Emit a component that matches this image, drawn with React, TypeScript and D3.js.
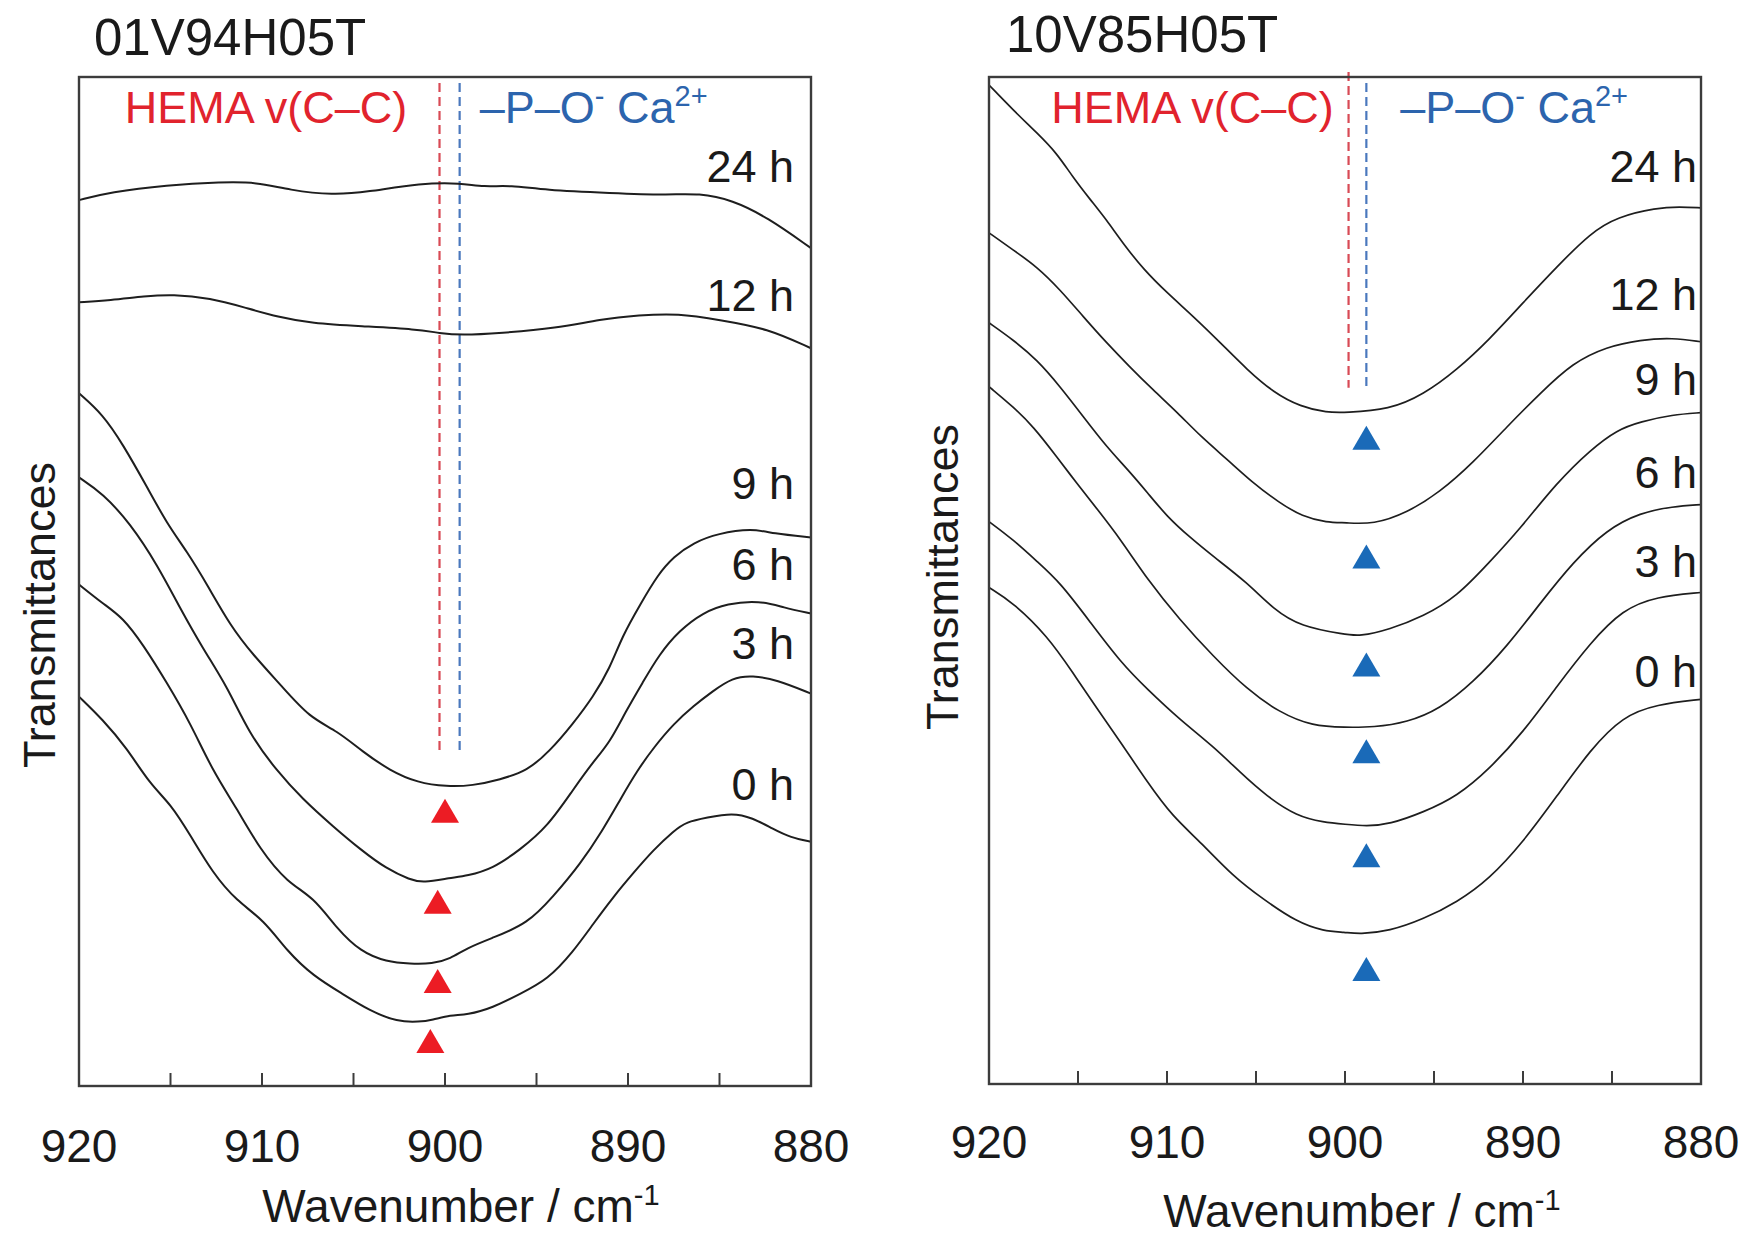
import React from "react";
import * as d3 from "d3";

type Pt = [number, number];

// ---------- axis values ----------
const WAVENUMBER_DOMAIN: [number, number] = [920, 880];
const TRANSMITTANCE_DOMAIN: [number, number] = [0, 100.8];
const TICK_VALUES = [920, 915, 910, 905, 900, 895, 890, 885, 880];
const TICK_LABELS = [920, 910, 900, 890, 880];
const X_TITLE = "Wavenumber / cm";
const Y_TITLE = "Transmittances";
const TIME_LABELS = ["24 h", "12 h", "9 h", "6 h", "3 h", "0 h"];

// ---------- panel A : 01V94H05T ----------
const A_TITLE = "01V94H05T";
const A_24H: Pt[] = [[920,88.5],[918.3,89.3],[915.2,90.0],[912.2,90.3],[910.3,90.3],[908.5,89.5],[906.1,89.0],[904.3,89.3],[901.3,90.2],[899.1,90.2],[897.9,89.8],[896.4,90.0],[894.6,89.5],[890.9,89.2],[887.9,89.0],[886.1,89.2],[884.3,88.5],[882.4,86.8],[880,83.7]];
const A_12H: Pt[] = [[920,78.3],[918.3,78.5],[916.4,78.9],[914.9,79.1],[912.8,78.7],[911.0,77.8],[909.1,76.8],[907.3,76.2],[904.6,75.9],[901.5,75.6],[900.3,75.2],[899.1,75.0],[897.0,75.2],[893.9,75.7],[891.5,76.6],[889.4,77.0],[887.3,77.2],[884.9,76.5],[882.4,75.7],[880,73.7]];
const A_9H: Pt[] = [[920,69.2],[918.7,67.1],[917.6,64.1],[916.3,59.9],[915.2,56.2],[914.1,53.4],[913.0,50.1],[911.7,45.9],[910.5,43.1],[908.9,39.9],[907.4,36.8],[905.9,35.5],[904.5,33.4],[903.0,31.5],[901.5,30.3],[899.9,29.9],[898.5,30.0],[897.0,30.6],[895.5,31.5],[894.3,33.4],[893.0,36.2],[891.9,38.9],[891.0,41.7],[890.3,45.0],[889.3,48.2],[888.4,51.0],[887.5,52.9],[886.4,54.3],[885.1,55.2],[883.2,55.7],[882.1,55.2],[880,54.8]];
const A_6H: Pt[] = [[920,60.8],[918.7,59.2],[917.2,56.2],[915.7,52.0],[914.5,47.8],[913.2,43.6],[911.9,39.9],[910.7,35.2],[909.2,31.5],[907.8,28.7],[906.1,25.9],[904.6,23.6],[903.2,21.7],[901.9,20.6],[901.2,20.3],[899.7,20.8],[898.8,21.0],[897.4,21.7],[895.9,23.6],[894.4,25.9],[893.0,29.6],[891.9,32.4],[891.0,34.3],[890.1,37.5],[889.2,40.3],[888.3,43.1],[887.2,45.5],[885.9,47.3],[884.6,48.2],[882.8,48.5],[881.5,47.8],[880,47.2]];
const A_3H: Pt[] = [[920,50.1],[918.7,48.2],[917.6,46.8],[916.5,44.1],[915.2,40.3],[913.9,36.2],[912.7,31.5],[911.4,27.8],[910.1,23.6],[908.6,20.3],[907.2,18.9],[905.9,15.7],[904.6,13.4],[903.2,12.4],[901.9,12.2],[900.7,12.2],[899.7,12.7],[898.8,13.8],[897.4,14.8],[895.5,16.2],[894.1,18.9],[892.6,22.2],[891.4,25.5],[890.4,28.7],[889.5,31.5],[888.6,33.8],[887.5,36.2],[886.4,38.0],[885.4,39.4],[884.3,40.8],[883.2,41.0],[881.9,40.6],[880,39.2]];
const A_0H: Pt[] = [[920,38.9],[918.7,36.6],[917.4,33.8],[916.1,30.1],[915.0,28.2],[913.9,25.0],[912.7,21.3],[911.4,18.5],[909.9,16.6],[908.6,13.4],[907.2,11.0],[905.6,9.2],[904.1,7.5],[902.6,6.4],[901.4,6.4],[900.7,6.6],[899.7,7.1],[898.8,7.1],[897.4,7.8],[895.9,9.2],[894.4,10.6],[893.0,13.4],[891.9,16.2],[890.8,18.9],[889.7,21.3],[888.6,23.6],[887.5,25.5],[886.8,26.4],[885.7,26.8],[884.3,27.3],[883.2,26.8],[882.1,25.7],[881.1,24.8],[880,24.4]];
const A_PEAKS: Pt[] = [[900.0,27.5],[900.4,18.4],[900.4,10.5],[900.8,4.5]];
const A_BAND_HEMA = 900.3;
const A_BAND_PO = 899.2;

// ---------- panel B : 10V85H05T ----------
const B_TITLE = "10V85H05T";
const B_24H: Pt[] = [[920,100.0],[918.65,97.5],[917.3,95.2],[916.2,93.2],[915.3,90.8],[914.3,88.5],[913.4,86.5],[912.5,84.2],[911.3,81.5],[910.0,79.2],[908.5,76.8],[907.0,74.2],[905.5,71.5],[904.0,69.2],[902.5,67.8],[901.0,67.2],[900.0,67.2],[897.5,67.5],[895.6,69.0],[893.7,71.5],[891.9,74.5],[890.0,78.2],[888.1,81.8],[886.2,85.2],[884.7,86.8],[882.5,87.7],[881.2,87.8],[880,87.7]];
const B_12H: Pt[] = [[920,85.2],[918.65,83.5],[917.3,81.8],[916.0,79.5],[914.7,76.8],[913.4,74.2],[912.1,71.8],[910.8,69.5],[909.4,67.2],[908.1,64.8],[906.6,62.5],[905.2,60.2],[903.7,58.2],[902.4,56.8],[901.0,56.2],[900.0,56.2],[898.4,56.0],[896.5,57.2],[894.7,59.2],[892.8,62.2],[890.9,65.8],[889.0,69.2],[887.2,72.2],[885.3,73.8],[883.4,74.5],[881.6,74.7],[880,74.3]];
const B_9H: Pt[] = [[920,76.2],[918.65,74.5],[917.3,72.5],[916.0,69.8],[914.7,66.8],[913.4,63.8],[912.2,61.5],[911.1,59.2],[910.0,56.8],[908.7,54.7],[907.4,52.8],[905.5,50.2],[904.0,47.5],[902.5,45.8],[900.0,45.0],[899.2,44.8],[897.5,45.5],[895.6,46.8],[893.7,48.8],[891.9,52.2],[890.2,55.5],[888.1,60.2],[886.2,63.5],[884.7,65.5],[883.4,66.3],[881.6,67.0],[880,67.2]];
const B_6H: Pt[] = [[920,69.8],[918.65,67.8],[917.5,65.8],[916.2,62.8],[915.1,60.2],[913.9,57.5],[912.6,54.5],[911.1,50.5],[909.3,46.5],[907.4,42.8],[905.5,39.5],[903.7,37.2],[901.8,35.8],[900.0,35.7],[898.4,35.7],[896.5,36.2],[894.7,37.5],[892.8,40.2],[890.9,43.8],[889.0,48.2],[887.2,52.2],[885.3,55.5],[883.4,57.2],[881.6,57.8],[880,58.0]];
const B_3H: Pt[] = [[920,56.3],[918.65,54.5],[917.3,52.3],[916.0,50.2],[914.3,46.2],[912.6,42.2],[911.1,39.5],[909.3,36.5],[907.4,33.8],[905.9,31.2],[904.4,28.8],[902.7,26.8],[901.2,26.2],[900.0,26.0],[898.8,25.8],[897.5,26.0],[895.6,27.2],[893.7,28.8],[891.9,31.5],[890.0,35.2],[888.1,39.8],[886.2,44.2],[884.4,47.5],[882.5,48.8],[880,49.2]];
const B_0H: Pt[] = [[920,49.7],[918.65,48.2],[916.7,44.8],[915.3,41.2],[913.9,37.5],[912.6,34.2],[911.1,30.2],[909.7,26.8],[908.1,24.2],[906.3,20.8],[904.6,18.5],[902.7,16.2],[901.2,15.3],[900.0,15.2],[899.2,15.0],[897.5,15.3],[895.6,16.5],[893.7,18.2],[891.9,20.5],[890.0,24.2],[888.1,28.8],[886.2,33.5],[884.4,36.8],[882.5,38.0],[880,38.5]];
const B_PEAKS: Pt[] = [[898.8,64.7],[898.8,52.8],[898.8,42.0],[898.8,33.3],[898.8,22.9],[898.8,11.5]];
const B_BAND_HEMA = 899.8;
const B_BAND_PO = 898.8;

// ---------- layout ----------
const FONT = "'Liberation Sans', Arial, Helvetica, sans-serif";
const RED_TEXT = "#e1232d";
const BLUE_TEXT = "#2c64ad";
const RED_MARK = "#ec1c24";
const BLUE_MARK = "#1a6ab8";
const RED_DASH = "#d84a55";
const BLUE_DASH = "#4a78bd";

interface PanelCfg {
  title: string;
  titleX: number;
  titleY: number;
  left: number;
  right: number;
  top: number;
  bottom: number;
  series: Pt[][];
  labelValues: number[];
  labelX: number;
  peaks: Pt[];
  peakColor: string;
  bandHema: number;
  bandPO: number;
  hemaTop: number;
  bandBottom: number;
  hemaTextWn: number;
  poTextWn: number;
  tickLabelY: number;
  xTitleX: number;
  xTitleY: number;
  yTitleX: number;
  yTitleY: number;
  curveWidth: number;
}

function Panel({ c }: { c: PanelCfg }) {
  const x = d3.scaleLinear().domain(WAVENUMBER_DOMAIN).range([c.left, c.right]);
  const y = d3.scaleLinear().domain(TRANSMITTANCE_DOMAIN).range([c.bottom, c.top]);
  const line = d3
    .line<Pt>()
    .x((d) => x(d[0]))
    .y((d) => y(d[1]))
    .curve(d3.curveBasis);
  const tri = (cx: number, cy: number) =>
    `M${cx},${cy - 12}L${cx + 14},${cy + 12}L${cx - 14},${cy + 12}Z`;
  const annY = y(96.2);
  return (
    <g>
      <text x={c.titleX} y={c.titleY} fontSize={51} fill="#1a1a1a">
        {c.title}
      </text>
      {/* dashed band markers */}
      <line
        x1={x(c.bandHema)} x2={x(c.bandHema)} y1={y(c.hemaTop)} y2={y(c.bandBottom)}
        stroke={RED_DASH} strokeWidth={2.2} strokeDasharray="9 5"
      />
      <line
        x1={x(c.bandPO)} x2={x(c.bandPO)} y1={y(100.2)} y2={y(c.bandBottom)}
        stroke={BLUE_DASH} strokeWidth={2.2} strokeDasharray="9 5"
      />
      {/* spectra */}
      {c.series.map((s, i) => (
        <path key={i} d={line(s) || ""} fill="none" stroke="#1e1e1e" strokeWidth={c.curveWidth} />
      ))}
      {/* peak markers */}
      {c.peaks.map((p, i) => (
        <path key={i} d={tri(x(p[0]), y(p[1]))} fill={c.peakColor} />
      ))}
      {/* frame */}
      <rect
        x={c.left} y={c.top} width={c.right - c.left} height={c.bottom - c.top}
        fill="none" stroke="#3c3c3c" strokeWidth={2.4}
      />
      {TICK_VALUES.map((t) => (
        <line key={t} x1={x(t)} x2={x(t)} y1={c.bottom} y2={c.bottom - 13} stroke="#3c3c3c" strokeWidth={2} />
      ))}
      {TICK_LABELS.map((t) => (
        <text key={t} x={x(t)} y={c.tickLabelY} fontSize={46} textAnchor="middle" fill="#1a1a1a">
          {t}
        </text>
      ))}
      {/* annotations */}
      <text x={x(c.hemaTextWn)} y={annY} fontSize={45} fill={RED_TEXT}>
        HEMA v(C–C)
      </text>
      <text x={x(c.poTextWn)} y={annY} fontSize={45} fill={BLUE_TEXT}>
        –P–O
        <tspan fontSize={29} dy={-17}>-</tspan>
        <tspan dy={17}> Ca</tspan>
        <tspan fontSize={29} dy={-17}>2+</tspan>
      </text>
      {TIME_LABELS.map((l, i) => (
        <text key={l} x={c.labelX} y={y(c.labelValues[i])} fontSize={45} textAnchor="end" fill="#1a1a1a">
          {l}
        </text>
      ))}
      <text x={c.xTitleX} y={c.xTitleY} fontSize={46} textAnchor="middle" fill="#1a1a1a">
        {X_TITLE}
        <tspan fontSize={29} dy={-17}>-1</tspan>
      </text>
      <text
        transform={`translate(${c.yTitleX},${c.yTitleY}) rotate(-90)`}
        fontSize={45} textAnchor="middle" fill="#1a1a1a"
      >
        {Y_TITLE}
      </text>
    </g>
  );
}

const PANEL_A: PanelCfg = {
  title: A_TITLE, titleX: 94, titleY: 55,
  left: 79, right: 811, top: 77, bottom: 1086,
  series: [A_24H, A_12H, A_9H, A_6H, A_3H, A_0H],
  labelValues: [90.3, 77.4, 58.6, 50.5, 42.7, 28.6],
  labelX: 794,
  peaks: A_PEAKS, peakColor: RED_MARK,
  bandHema: A_BAND_HEMA, bandPO: A_BAND_PO, hemaTop: 100.2, bandBottom: 33.5,
  hemaTextWn: 917.5, poTextWn: 898.1,
  tickLabelY: 1162, xTitleX: 461, xTitleY: 1222,
  yTitleX: 55, yTitleY: 615,
  curveWidth: 2,
};

const PANEL_B: PanelCfg = {
  title: B_TITLE, titleX: 1006, titleY: 52,
  left: 989, right: 1701, top: 77, bottom: 1084,
  series: [B_24H, B_12H, B_9H, B_6H, B_3H, B_0H],
  labelValues: [90.3, 77.5, 69.0, 59.7, 50.8, 39.7],
  labelX: 1697,
  peaks: B_PEAKS, peakColor: BLUE_MARK,
  bandHema: B_BAND_HEMA, bandPO: B_BAND_PO, hemaTop: 101.3, bandBottom: 69.7,
  hemaTextWn: 916.5, poTextWn: 896.9,
  tickLabelY: 1158, xTitleX: 1362, xTitleY: 1227,
  yTitleX: 958, yTitleY: 577,
  curveWidth: 1.7,
};

export default function App() {
  return (
    <svg
      width={1740}
      height={1238}
      viewBox="0 0 1740 1238"
      style={{ position: "absolute", left: 0, top: 0, background: "#fff", display: "block" }}
      fontFamily={FONT}
    >
      <rect width={1740} height={1238} fill="#fff" />
      <Panel c={PANEL_A} />
      <Panel c={PANEL_B} />
    </svg>
  );
}
